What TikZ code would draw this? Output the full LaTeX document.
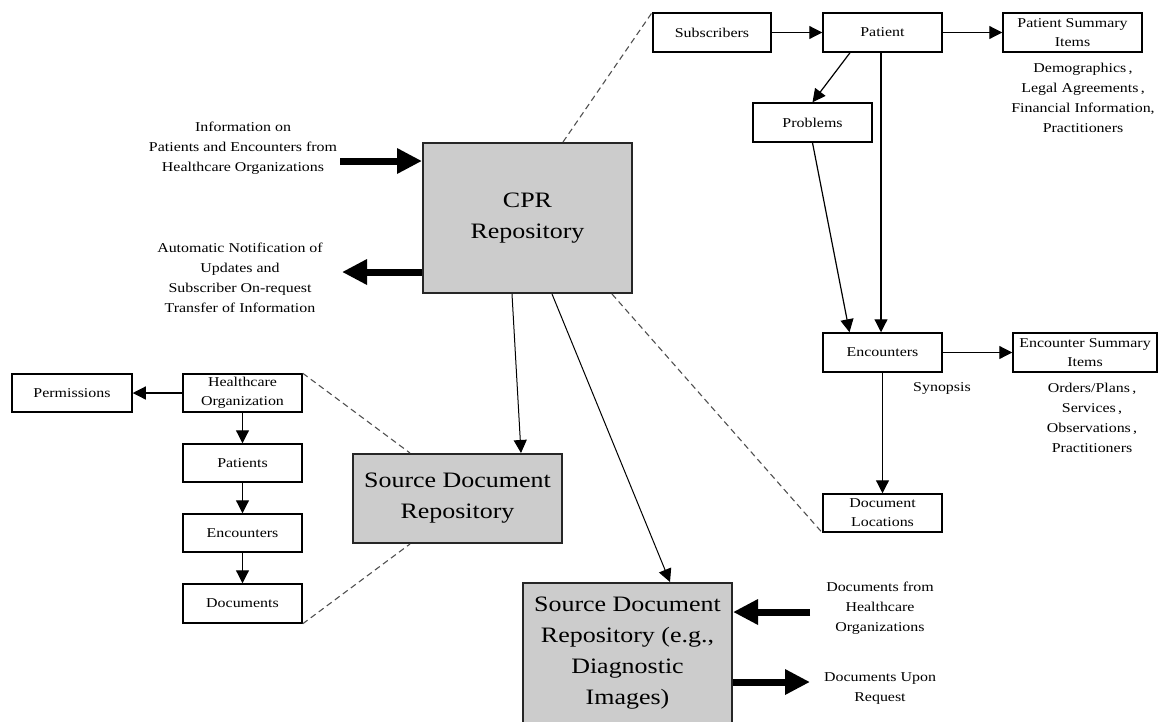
\documentclass[tikz,border=0pt]{standalone}
\usepackage{fontspec}
\setmainfont{Liberation Serif}[FakeStretch=1.18]
\usetikzlibrary{arrows.meta,calc}
\definecolor{boxgray}{RGB}{204,204,204}
\definecolor{dashgray}{RGB}{80,80,80}
\tikzset{
 sbox/.style={draw, line width=1.5pt, minimum width=119pt, minimum height=39pt, inner sep=0pt, align=center, font=\fontsize{13.5}{19}\selectfont},
 gbox/.style={draw=black!85, line width=2pt, fill=boxgray, inner sep=0pt, align=center, font=\fontsize{22}{31}\selectfont},
 lbl/.style={align=center, inner sep=0pt, font=\fontsize{13.5}{20}\selectfont},
 conn/.style={line width=1.2pt, -{Triangle[length=13pt,width=13pt]}},
 bigarrow/.style={line width=7pt, -{Triangle[length=25pt,width=24pt]}},
 dashln/.style={draw=dashgray, line width=1.1pt, dash pattern=on 6pt off 4pt},
}
\begin{document}
\begin{tikzpicture}[x=1pt,y=-1pt]
\fill[white] (0,0) rectangle (1159,721);
\useasboundingbox (0,0) rectangle (1159,721);
% top-right schema
\node[sbox, minimum width=118pt] (sub) at (712,32.5) {Subscribers};
\node[sbox] (pat) at (882.5,32.5) {Patient};
\node[sbox, minimum width=139pt] (psi) at (1072.5,32.5) {Patient Summary\\Items};
\node[sbox] (prob) at (812.5,122.5) {Problems};
\node[sbox] (enc) at (882.5,352.5) {Encounters};
\node[sbox, minimum width=144pt] (esi) at (1085,352.5) {Encounter Summary\\Items};
\node[sbox, minimum height=38pt] (docloc) at (882.5,513) {Document\\Locations};
% repositories
\node[gbox, minimum width=209pt, minimum height=150pt] (cpr) at (527.5,218) {CPR\\Repository};
\node[gbox, minimum width=209pt, minimum height=89pt] (sdr) at (457.5,498.5) {Source Document\\Repository};
\node[gbox, minimum width=209pt, minimum height=140pt] (sdr2) at (627.5,653) {Source Document\\Repository (e.g.,\\Diagnostic\\Images)};
% bottom-left schema
\node[sbox, minimum width=120pt, minimum height=38pt] (perm) at (72,393) {Permissions};
\node[sbox, minimum height=38pt] (ho) at (242.5,393) {Healthcare\\Organization};
\node[sbox, minimum height=38pt] (pats) at (242.5,463) {Patients};
\node[sbox, minimum height=38pt] (encs) at (242.5,533) {Encounters};
\node[sbox, minimum height=39pt] (docs) at (242.5,603.5) {Documents};
% free labels
\node[lbl] (info) at (243,148) {Information on\\Patients and Encounters from\\Healthcare Organizations};
\node[lbl] (notif) at (240,278) {Automatic Notification of\\Updates and\\Subscriber On-request\\Transfer of Information};
\node[lbl] (demo) at (1083,98) {Demographics\,,\\Legal Agreements\,,\\Financial Information,\\Practitioners};
\node[lbl] (syn) at (942,388) {Synopsis};
\node[lbl] (orders) at (1092,418) {Orders/Plans\,,\\Services\,,\\Observations\,,\\Practitioners};
\node[lbl] (docfrom) at (880,608) {Documents from\\Healthcare\\Organizations};
\node[lbl] (docup) at (880,688.5) {Documents Upon\\Request};
% thin connectors
\draw[conn] (sub) -- (pat);
\draw[conn] (pat) -- (psi);
\draw[conn] ([xshift=-32.5pt]pat.south) -- (prob.north);
\draw[conn] ([xshift=-1.5pt]pat.south) -- ([xshift=-1.5pt]enc.north);
\draw[conn] (prob.south) -- ([xshift=-33pt]enc.north);
\draw[conn] (enc) -- (esi);
\draw[conn] (enc.south) -- (docloc.north);
\draw[conn, line width=1pt] ([xshift=-15.5pt]cpr.south) -- ([xshift=63.5pt]sdr.north);
\draw[conn, line width=1pt] ([xshift=24.5pt]cpr.south) -- ([xshift=42.5pt]sdr2.north);
\draw[conn] (ho) -- (perm);
\draw[conn] (ho) -- (pats);
\draw[conn] (pats) -- (encs);
\draw[conn] (encs) -- (docs);
% thick arrows
\coordinate (infoarr) at (340,161);
\coordinate (notifarr) at (342,272);
\coordinate (dfarr) at (810,612);
\coordinate (duarr) at (810,682);
\draw[bigarrow] (infoarr) -- (infoarr -| cpr.west);
\draw[bigarrow] (notifarr -| cpr.west) -- (notifarr);
\draw[bigarrow] (dfarr) -- (dfarr -| sdr2.east);
\draw[bigarrow] (duarr -| sdr2.east) -- (duarr);
% dashed zoom lines
\draw[dashln] ([xshift=35.5pt]cpr.north) -- (sub.north west);
\draw[dashln] ([xshift=84.5pt]cpr.south) -- (docloc.south west);
\draw[dashln] (ho.north east) -- ([xshift=-47.5pt]sdr.north);
\draw[dashln] (docs.south east) -- ([xshift=-47.5pt]sdr.south);
\end{tikzpicture}
\end{document}
